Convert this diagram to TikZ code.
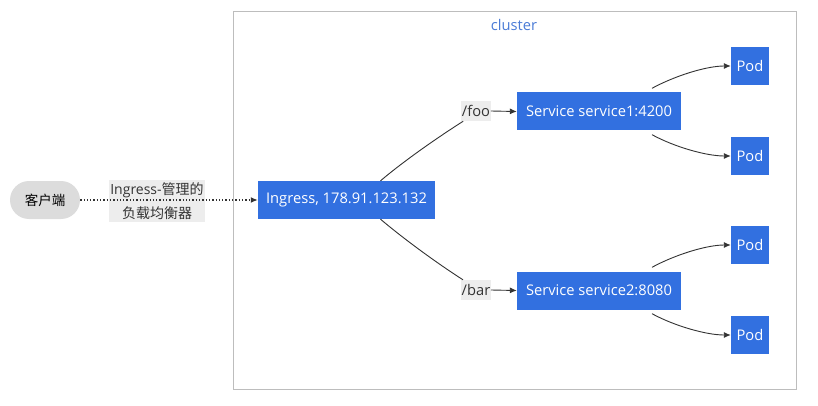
\documentclass[tikz,border=0pt]{standalone}
\usepackage{fontspec}
\setmainfont{Open Sans}
\newfontfamily\cjk{Noto Sans CJK SC}
\usetikzlibrary{arrows.meta,calc}
\definecolor{bluebox}{HTML}{3270E0}
\definecolor{clusterline}{HTML}{BDBDBD}
\definecolor{clustertext}{HTML}{4A7BD6}
\definecolor{edgecol}{HTML}{333333}
\definecolor{clientfill}{HTML}{DCDCDC}
\definecolor{labelfill}{HTML}{EDEDED}
\tikzset{
  x=1pt,y=-1pt,
  every node/.style={font=\fontsize{14.7}{17}\selectfont, inner sep=0pt},
  bluebox/.style={fill=bluebox, text=white, minimum height=38pt, anchor=center},
  podbox/.style={bluebox, minimum width=38pt},
  edgelabel/.style={fill=labelfill, text=edgecol, minimum height=20pt, inner xsep=0.5pt},
  conn/.style={draw=edgecol, line width=0.9pt, -{Latex[length=7pt,width=6pt]}},
  plain/.style={draw=edgecol, line width=0.9pt},
}
\begin{document}
\begin{tikzpicture}
\useasboundingbox (0,0) rectangle (818,406);
\node[draw=clusterline, line width=1pt, minimum width=563pt, minimum height=377pt] (cluster) at (514.5,200.5) {};
\node[text=clustertext] (clabel) at (514,25) {cluster};
\node[fill=clientfill, rounded corners=19pt, minimum width=70pt, minimum height=38pt] (client) at (45,200) {{\cjk\fontsize{13.5}{16}\selectfont 客户端}};
\node[bluebox, minimum width=177pt] (ing) at (346.5,200) {Ingress, 178.91.123.132};
\node[fill=labelfill, text=edgecol, align=center, inner xsep=1pt, inner ysep=3pt, font=\fontsize{14}{24}\selectfont] (lb) at (157,201) {Ingress-{\cjk 管理的}\\{\cjk 负载均衡器}};
\node[bluebox, minimum width=164pt] (s1) at (599,111.5) {Service service1:4200};
\node[bluebox, minimum width=164pt] (s2) at (599,290.5) {Service service2:8080};
\node[podbox] (p1) at (750,66) {Pod};
\node[podbox] (p2) at (750,156) {Pod};
\node[podbox] (p3) at (750,245) {Pod};
\node[podbox] (p4) at (750,335) {Pod};
\node[edgelabel] (foo) at (476,111) {/foo};
\node[edgelabel] (bar) at (476,290) {/bar};
% client to ingress
\draw[draw=edgecol, line width=1.3pt, dotted, -{Latex[length=7pt,width=6pt]}] (client.east) -- (ing.west);
% ingress to services
\draw[plain] ($(ing.north)+(34,0)$) .. controls ($(ing.north)+(60,-22)$) and ($(foo.south west)+(-20,14)$) .. ($(foo.south west)+(2,0)$);
\draw[conn] (foo.east) -- (s1.west);
\draw[plain] ($(ing.south)+(34,0)$) .. controls ($(ing.south)+(60,22)$) and ($(bar.north west)+(-20,-14)$) .. ($(bar.north west)+(2,0)$);
\draw[conn] (bar.east) -- (s2.west);
% services to pods
\draw[conn] ($(s1.north)+(53,-4)$) .. controls ($(s1.north)+(75,-16)$) and ($(p1.west)+(-25,0)$) .. (p1.west);
\draw[conn] ($(s1.south)+(53,4)$) .. controls ($(s1.south)+(75,16)$) and ($(p2.west)+(-25,0)$) .. (p2.west);
\draw[conn] ($(s2.north)+(53,-4)$) .. controls ($(s2.north)+(75,-16)$) and ($(p3.west)+(-25,0)$) .. (p3.west);
\draw[conn] ($(s2.south)+(53,4)$) .. controls ($(s2.south)+(75,16)$) and ($(p4.west)+(-25,0)$) .. (p4.west);
\end{tikzpicture}
\end{document}
